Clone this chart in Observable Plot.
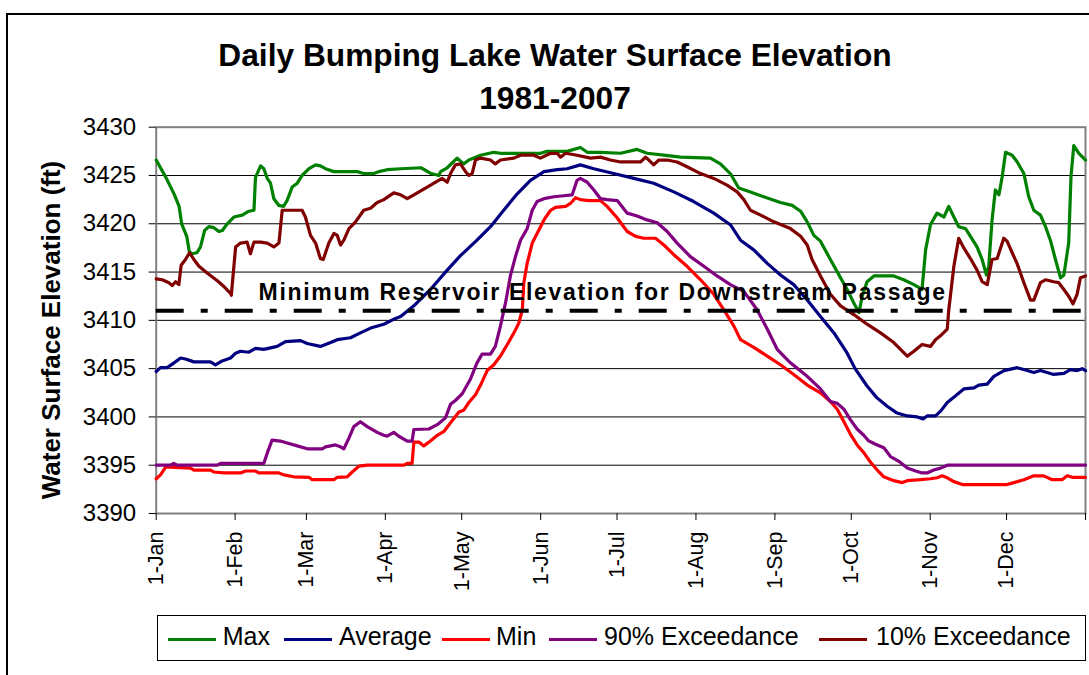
<!DOCTYPE html>
<html><head><meta charset="utf-8">
<script src="https://cdn.jsdelivr.net/npm/d3@7"></script>
<script src="https://cdn.jsdelivr.net/npm/@observablehq/plot@0.6"></script>
<style>
html,body{margin:0;padding:0;background:#fff;overflow:hidden;}
#wrap{position:relative;width:1089px;height:675px;overflow:hidden;font-family:"Liberation Sans",Arial,sans-serif;color:#000;}
#outer{position:absolute;left:6px;top:12.5px;width:1200px;height:800px;border-left:2px solid #000;border-top:2px solid #000;}
.title{position:absolute;left:0;width:1110px;text-align:center;font-weight:bold;font-size:31.7px;line-height:1;white-space:nowrap;}
#ytitle{position:absolute;width:400px;height:26px;line-height:26px;left:-149.5px;top:316.5px;text-align:center;font-weight:bold;font-size:26px;white-space:nowrap;transform:rotate(-90deg);}
#chart{position:absolute;left:0;top:0;}
#legend{position:absolute;left:157px;top:615px;width:929px;height:46px;border:1px solid #000;box-sizing:border-box;background:#fff;}
.sw{position:absolute;height:3.5px;width:48px;top:21.5px;}
.lt{position:absolute;font-size:25px;line-height:1;white-space:nowrap;top:8px;}
</style></head>
<body><div id="wrap">
<div id="outer"></div>
<div class="title" id="t1" style="top:40px"></div>
<div class="title" id="t2" style="top:83.3px"></div>
<div id="ytitle"></div>
<div id="chart"></div>
<div id="legend"></div>
</div>
<script>
const titleLine1 = "Daily Bumping Lake Water Surface Elevation";
const titleLine2 = "1981-2007";
const yTitle = "Water Surface Elevation (ft)";
const thresholdLabel = "Minimum Reservoir Elevation for Downstream Passage";
const minPassage = 3411;

const monthStarts = [0,31,59,90,120,151,181,212,243,273,304,334,365];
const monthLabels = ["1-Jan","1-Feb","1-Mar","1-Apr","1-May","1-Jun","1-Jul","1-Aug","1-Sep","1-Oct","1-Nov","1-Dec",""];
const yTicks = [3390,3395,3400,3405,3410,3415,3420,3425,3430];

const seriesNames = ["Max","Average","Min","90% Exceedance","10% Exceedance"];
const seriesColors = ["#008000","#000080","#FF0000","#800080","#800000"];

// [day of year, elevation ft]
const maxElev = [[0,3426.6],[4,3424.7],[7,3423.1],[9,3421.8],[10,3420.0],[12,3418.7],[13,3417.1],[14,3416.9],[16,3417.0],[17.4,3417.6],[19,3419.3],[20.7,3419.7],[22.6,3419.6],[24.6,3419.2],[26,3419.3],[27.9,3420.0],[30.5,3420.7],[33.8,3420.9],[36.4,3421.3],[38.4,3421.4],[39,3424.8],[41,3426.0],[42.3,3425.7],[43.6,3424.7],[44.9,3424.2],[46.2,3422.6],[48.2,3421.9],[50,3421.8],[51.4,3422.4],[53.4,3423.8],[55.4,3424.2],[57.3,3425.0],[60,3425.7],[62.6,3426.1],[64.5,3426.0],[66.5,3425.7],[69.8,3425.4],[79,3425.4],[81.5,3425.2],[85.5,3425.2],[87.4,3425.4],[90.7,3425.6],[96,3425.7],[104,3425.8],[108,3425.2],[111,3425.0],[111.7,3425.4],[114.3,3425.8],[118.2,3426.8],[120.8,3426.2],[122.8,3426.6],[127.4,3427.1],[132.6,3427.4],[135.2,3427.3],[151,3427.3],[153.5,3427.5],[161.4,3427.5],[166.6,3427.9],[169.3,3427.4],[174.5,3427.4],[182.4,3427.3],[188.9,3427.7],[192.8,3427.3],[199.4,3427.1],[205.9,3426.9],[217.7,3426.8],[221.6,3426.2],[225.5,3425.2],[228.8,3423.7],[233.4,3423.3],[238.6,3422.8],[245.2,3422.2],[249.8,3421.9],[253.1,3421.3],[255.7,3420.2],[258.3,3418.8],[260.9,3418.2],[264.8,3416.3],[268.8,3414.4],[271.4,3413.2],[274,3411.8],[276,3410.8],[277.3,3412.5],[279.2,3414.0],[281.9,3414.6],[289.7,3414.6],[293.6,3414.2],[297.6,3413.7],[300.8,3413.2],[302.2,3417.3],[304.1,3419.9],[306.7,3421.1],[309.4,3420.7],[311.3,3421.8],[313.3,3420.7],[315.2,3419.7],[317.9,3419.5],[319.8,3418.7],[322.4,3417.6],[324.4,3416.3],[326.1,3414.7],[327,3415.6],[328.3,3420.4],[329.6,3423.5],[331,3423.0],[332.3,3424.9],[333.6,3427.4],[336.2,3427.1],[338.2,3426.4],[340.8,3425.2],[342.7,3422.8],[344.7,3421.4],[347.3,3420.9],[349.3,3419.7],[351.2,3418.3],[353.2,3416.3],[355.2,3414.4],[356.5,3414.7],[358.4,3418.0],[359.3,3424.9],[360.4,3428.1],[362.4,3427.3],[365,3426.6]];

const avgElev = [[0,3404.7],[1.7,3405.1],[4.3,3405.1],[7,3405.6],[9.6,3406.1],[11.5,3406.0],[14.8,3405.7],[21.3,3405.7],[23.3,3405.4],[25.9,3405.8],[29.2,3406.1],[31.2,3406.6],[33.1,3406.8],[36.4,3406.7],[39,3407.1],[42.3,3407.0],[47.5,3407.3],[50.8,3407.8],[56.7,3407.9],[59.3,3407.6],[64.5,3407.3],[68.5,3407.7],[71.1,3408.0],[76.3,3408.2],[80.2,3408.7],[84.2,3409.2],[89.4,3409.6],[94,3410.2],[96,3410.4],[101.2,3411.5],[107.7,3413.2],[114.3,3415.2],[119.5,3416.7],[126,3418.3],[131.3,3419.7],[136.5,3421.4],[141.8,3423.1],[147,3424.5],[152.3,3425.4],[157.5,3425.6],[161.4,3425.7],[166.6,3426.1],[171.9,3425.7],[179.7,3425.2],[187.6,3424.7],[195.4,3424.2],[203.3,3423.3],[211.1,3422.3],[219,3421.1],[225.5,3419.9],[229.5,3418.3],[234.7,3417.3],[240,3415.9],[245.2,3414.7],[250.4,3413.7],[255.7,3412.1],[260.9,3410.4],[266.2,3408.7],[271.4,3406.6],[274.5,3405.0],[279.2,3403.2],[283,3402.0],[287.1,3401.1],[291,3400.4],[295,3400.1],[298.9,3400.0],[301.2,3399.8],[302.8,3400.1],[306.1,3400.1],[308.1,3400.6],[310.7,3401.5],[314,3402.2],[317.2,3402.9],[321.2,3403.0],[323.1,3403.3],[326.4,3403.4],[329,3404.2],[333,3404.8],[338.2,3405.1],[342.1,3404.8],[344.7,3404.6],[347.3,3404.8],[352.5,3404.4],[356.5,3404.5],[359.1,3404.9],[361.7,3404.8],[363.7,3405.0],[365,3404.8]];

const minElev = [[0,3393.6],[1.7,3394.0],[3.7,3394.8],[5.6,3394.8],[13.5,3394.7],[14.8,3394.5],[21.3,3394.5],[22.6,3394.3],[26.6,3394.2],[33.1,3394.2],[35.1,3394.4],[39,3394.4],[40.3,3394.2],[48.2,3394.2],[50.1,3394.0],[54.1,3393.8],[60,3393.75],[61.3,3393.5],[69.8,3393.5],[71.1,3393.75],[75,3393.8],[77,3394.3],[79.6,3394.9],[82.9,3395.0],[97.3,3395.0],[98.6,3395.2],[100.5,3395.2],[101.2,3397.4],[103.2,3397.4],[105.1,3397.0],[107.7,3397.5],[110.4,3398.1],[113,3398.5],[115.6,3399.4],[118.9,3400.5],[120.8,3400.7],[122.8,3401.5],[125.4,3402.3],[127.4,3403.3],[130,3404.8],[132.6,3405.4],[135.2,3406.3],[137.9,3407.5],[140.5,3408.7],[142.4,3409.7],[143.8,3411.1],[144.4,3413.9],[145.7,3415.9],[147.7,3418.0],[149.6,3419.0],[152.3,3420.4],[154.9,3421.4],[156.8,3421.7],[160.8,3421.8],[162.7,3422.1],[164.7,3422.7],[166.6,3422.5],[169.9,3422.4],[174.5,3422.4],[177.1,3421.8],[181.1,3420.6],[185,3419.2],[188.3,3418.7],[191.5,3418.5],[196.1,3418.5],[199.4,3417.8],[203.3,3416.8],[208.5,3415.6],[213.8,3414.2],[219,3412.7],[222.9,3411.1],[226.9,3409.4],[229.5,3408.0],[234.7,3407.2],[240,3406.3],[245.2,3405.4],[250.4,3404.4],[255.7,3403.3],[260.9,3402.5],[264.8,3401.6],[267.5,3400.8],[270.1,3399.5],[272.7,3398.2],[275.3,3397.1],[277.9,3396.3],[280.6,3395.3],[283.2,3394.5],[285.8,3393.8],[289.7,3393.4],[293,3393.2],[295,3393.4],[300.2,3393.5],[304.1,3393.6],[306.7,3393.7],[308.7,3393.9],[310.7,3393.7],[313.3,3393.3],[316.6,3393.0],[334.2,3393.0],[336.9,3393.2],[340.8,3393.5],[344.7,3393.9],[348.6,3393.9],[351.9,3393.5],[355.8,3393.5],[357.8,3393.9],[359.8,3393.75],[365,3393.75]];

const p90Elev = [[0,3395.0],[5.6,3395.0],[6.9,3395.2],[8.2,3395.0],[24,3395.0],[25.3,3395.2],[42.3,3395.2],[43.6,3396.25],[45.5,3397.6],[48.8,3397.5],[51.4,3397.3],[55.4,3397.0],[59.3,3396.7],[65.2,3396.7],[66.5,3396.9],[70.4,3397.1],[72.4,3396.9],[73.7,3396.7],[75.7,3397.8],[77.6,3399.0],[80.2,3399.5],[82.9,3399.0],[86.8,3398.4],[89.4,3398.1],[90.7,3398.0],[93.3,3398.4],[95.3,3398.0],[98.6,3397.5],[100.5,3397.5],[101.2,3398.7],[107.1,3398.75],[110.4,3399.2],[113.6,3399.9],[115.6,3401.3],[117.5,3401.7],[120.2,3402.4],[123.4,3403.9],[126,3405.6],[128,3406.5],[131.3,3406.5],[133.2,3407.3],[135.2,3409.4],[137.2,3411.8],[139.1,3414.6],[141.1,3416.6],[143.1,3418.3],[145.7,3419.5],[147.7,3421.4],[149.6,3422.3],[152.3,3422.6],[156.2,3422.8],[160.1,3422.9],[163.4,3423.0],[165.3,3424.5],[166.6,3424.7],[169.3,3424.3],[171.9,3423.5],[174.5,3422.6],[177.1,3422.5],[181.1,3422.4],[185,3421.1],[188.9,3420.8],[192.8,3420.4],[196.8,3420.1],[200.7,3419.2],[204.6,3418.0],[209.8,3416.6],[215.1,3415.6],[220.3,3414.6],[225.5,3413.7],[230.8,3413.0],[236,3411.1],[240,3409.1],[243.9,3407.0],[249.1,3405.6],[255.7,3404.2],[260.9,3402.9],[264.8,3401.6],[267.5,3401.4],[270.1,3400.8],[272.7,3399.7],[275.3,3398.75],[277.9,3398.1],[279.9,3397.5],[283.2,3397.1],[285.8,3396.8],[288.4,3395.9],[291.7,3395.4],[295,3394.7],[298.3,3394.4],[300.8,3394.2],[302.8,3394.2],[305.4,3394.5],[308.1,3394.7],[310.7,3395.0],[365,3395.0]];

const p10Elev = [[0,3414.3],[2.4,3414.2],[5,3413.9],[6.3,3413.6],[7.6,3414.0],[8.9,3413.7],[9.8,3415.7],[11.5,3416.3],[13.1,3417.0],[14.8,3416.3],[16.8,3415.6],[20,3414.9],[24,3414.1],[26.6,3413.5],[29.2,3412.8],[29.5,3412.6],[31.2,3417.6],[33.1,3418.0],[35.7,3418.1],[37,3416.9],[38.4,3418.1],[41,3418.1],[43.6,3418.0],[46.2,3417.6],[48.2,3418.0],[49.5,3421.4],[57.3,3421.4],[58.6,3420.7],[60.6,3418.8],[62.6,3418.0],[64.5,3416.4],[65.6,3416.3],[67.8,3418.0],[69.8,3419.0],[71.1,3418.8],[72.4,3417.8],[73.7,3418.3],[75.7,3419.5],[78.3,3420.2],[81.5,3421.4],[84.2,3421.6],[86.8,3422.2],[89.4,3422.5],[93.3,3423.2],[96,3423.0],[98.6,3422.6],[101.2,3423.0],[105.1,3423.6],[109.1,3424.2],[112.3,3424.7],[114.3,3424.3],[115.6,3425.2],[117.5,3426.1],[119.5,3426.2],[121.5,3425.4],[122.8,3425.0],[124.1,3425.2],[125.4,3426.6],[127.4,3426.8],[131.3,3426.6],[133.2,3426.2],[135.2,3426.6],[140.5,3426.8],[143.1,3427.1],[148.3,3427.1],[150.9,3426.8],[154.9,3427.3],[157.5,3427.3],[158.8,3426.9],[160.8,3427.3],[165.3,3427.1],[170.6,3426.8],[174.5,3426.9],[178.4,3426.6],[182.4,3426.4],[190.2,3426.4],[192.2,3426.9],[193.5,3426.6],[195.4,3426.1],[197.4,3426.6],[200.7,3426.6],[204.6,3426.4],[208.5,3425.9],[213.8,3425.2],[219,3424.7],[224.2,3424.0],[228.2,3423.3],[230.8,3422.5],[233.4,3421.4],[237.4,3420.9],[242.6,3420.2],[249.1,3419.5],[253.1,3418.7],[255.7,3417.8],[257.6,3416.3],[260.9,3414.6],[264.8,3412.7],[268.8,3411.5],[274,3410.6],[279.2,3409.6],[284.5,3408.7],[289.7,3407.7],[295,3406.3],[297.6,3406.8],[300.8,3407.5],[304.1,3407.3],[306.1,3408.0],[308,3408.4],[310.7,3409.1],[311.3,3411.1],[313.3,3415.6],[315.2,3418.5],[317.2,3417.5],[319.8,3416.4],[322.4,3415.2],[324.4,3414.0],[326.4,3413.7],[328.3,3416.3],[330.3,3416.4],[332.9,3418.5],[334.2,3418.2],[336.2,3417.0],[338.1,3415.9],[340.8,3413.9],[343.4,3412.1],[344.7,3412.1],[347.3,3413.9],[349.3,3414.2],[352.5,3414.0],[354.5,3413.9],[356.5,3413.2],[358.4,3412.5],[360.1,3411.7],[361.7,3412.7],[363,3414.4],[365,3414.6]];

const seriesData = [maxElev, avgElev, minElev, p90Elev, p10Elev];
const rows = seriesData.flatMap((s, i) => s.map(([day, value]) => ({series: seriesNames[i], day, value})));
const labelByDay = new Map(monthStarts.map((d, i) => [d, monthLabels[i]]));

document.getElementById("t1").textContent = titleLine1;
document.getElementById("t2").textContent = titleLine2;
document.getElementById("ytitle").textContent = yTitle;

const font = "'Liberation Sans', Arial, sans-serif";
const chart = Plot.plot({
  width: 1089, height: 600,
  marginLeft: 155.7, marginRight: 4, marginTop: 126.7, marginBottom: 87,
  x: {domain: [0, 365]},
  y: {domain: [3390, 3430]},
  color: {domain: seriesNames, range: seriesColors},
  style: {fontFamily: font, background: "transparent", color: "#000", overflow: "visible"},
  marks: [
    Plot.ruleY(yTicks.filter(v => v > 3390 && v < 3430), {stroke: "#000", strokeWidth: 1}),
    Plot.frame({stroke: "#808080", strokeWidth: 2}),
    Plot.axisY({ticks: yTicks, tickSize: 7, tickPadding: 13, fontSize: 24, label: null, stroke: "#000", tickFormat: d => String(d)}),
    Plot.axisX({ticks: monthStarts, tickFormat: d => labelByDay.get(d), tickRotate: -90, tickSize: 7, tickPadding: 11, fontSize: 21.5, label: null, stroke: "#000"}),
    Plot.line(rows, {x: "day", y: "value", z: "series", stroke: "series", strokeWidth: 3.2, strokeLinejoin: "round", strokeLinecap: "round"}),
    Plot.ruleY([minPassage], {stroke: "#000", strokeWidth: 4, strokeDasharray: "28,17,7,17"}),
    Plot.text([thresholdLabel], {x: 40.2, y: minPassage, text: d => d, textAnchor: "start", dy: -18, fontSize: 23, fontWeight: "bold", fill: "#000"})
  ]
});
d3.select(chart).selectAll("text").filter(function() { return this.textContent === thresholdLabel; }).style("letter-spacing", "1.7px");
document.getElementById("chart").appendChild(chart);

const legend = document.getElementById("legend");
const swatchX = [9.7, 125.7, 284, 391, 661];
const textX = [64.7, 181, 338, 446, 718];
seriesNames.forEach((name, i) => {
  const sw = document.createElement("div");
  sw.className = "sw"; sw.style.left = swatchX[i] + "px"; sw.style.background = seriesColors[i];
  legend.appendChild(sw);
  const t = document.createElement("div");
  t.className = "lt"; t.style.left = textX[i] + "px"; t.textContent = name;
  legend.appendChild(t);
});
</script>
</body></html>
